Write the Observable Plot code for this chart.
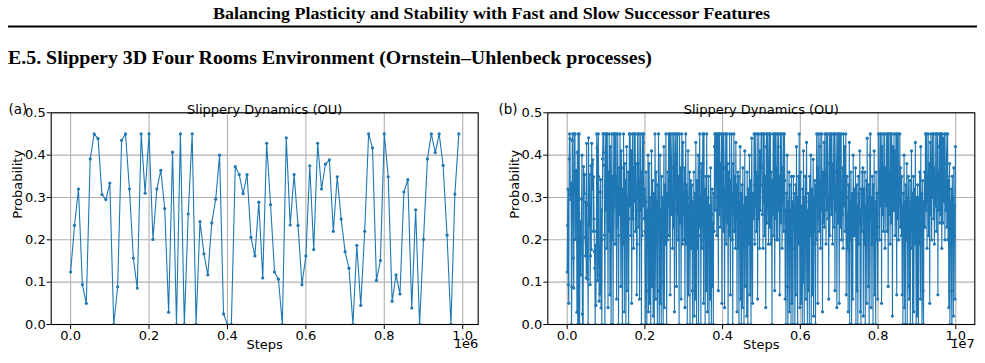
<!DOCTYPE html>
<html>
<head>
<meta charset="utf-8">
<script src="https://cdn.jsdelivr.net/npm/d3@7"></script>
<script src="https://cdn.jsdelivr.net/npm/@observablehq/plot@0.6"></script>
<style>
  html, body { margin: 0; padding: 0; background: #fff; }
  #page { position: relative; width: 985px; height: 363px; overflow: hidden; background: #fff; }
  #head { position: absolute; left: 0; top: 0; }
  .panel { position: absolute; top: 90px; }
</style>
</head>
<body>
<div id="page">
  <svg id="head" width="985" height="90">
    <text x="491.5" y="19" text-anchor="middle" font-family="Liberation Serif" font-weight="bold" font-size="17" textLength="557" lengthAdjust="spacingAndGlyphs">Balancing Plasticity and Stability with Fast and Slow Successor Features</text>
    <line x1="8" x2="977" y1="26.5" y2="26.5" stroke="#000" stroke-width="2"></line>
    <text x="8" y="64" font-family="Liberation Serif" font-weight="bold" font-size="19" textLength="644" lengthAdjust="spacingAndGlyphs">E.5. Slippery 3D Four Rooms Environment (Ornstein–Uhlenbeck processes)</text>
  </svg>
</div>
<script>
// Slip probability of the OU process, sampled every 10k environment steps.
const stepInterval = 10000;

// (a) first 1e6 steps
const probA = [
  0.124, 0.234, 0.320, 0.094, 0.050, 0.391, 0.450, 0.439, 0.307, 0.295,
  0.334, 0.000, 0.089, 0.435, 0.450, 0.320, 0.157, 0.086, 0.450, 0.310,
  0.450, 0.201, 0.320, 0.364, 0.274, 0.029, 0.407, 0.000, 0.450, 0.000,
  0.261, 0.450, 0.000, 0.243, 0.167, 0.117, 0.240, 0.296, 0.400, 0.025,
  0.000, 0.000, 0.373, 0.354, 0.309, 0.354, 0.206, 0.162, 0.289, 0.110,
  0.428, 0.283, 0.124, 0.107, 0.000, 0.441, 0.235, 0.354, 0.234, 0.094,
  0.162, 0.375, 0.177, 0.428, 0.320, 0.379, 0.389, 0.220, 0.349, 0.249,
  0.172, 0.133, 0.000, 0.187, 0.045, 0.220, 0.450, 0.417, 0.104, 0.151,
  0.450, 0.349, 0.055, 0.117, 0.072, 0.313, 0.342, 0.039, 0.271, 0.000,
  0.201, 0.391, 0.450, 0.406, 0.450, 0.376, 0.211, 0.000, 0.308, 0.450
];

// (b) the same run continued from 1e6 to 1e7 steps
const probBTail = [
  0.27, 0.45, 0.18, 0.45, 0.33, 0.04, 0.36, 0.22, 0.45, 0.30, 0.07, 0.42, 0.25, 0.00, 0.31, 0.45, 0.20, 0.35, 0.00, 0.28,
  0.45, 0.45, 0.31, 0.19, 0.45, 0.28, 0.45, 0.06, 0.35, 0.23, 0.45, 0.30, 0.00, 0.21, 0.37, 0.26, 0.45, 0.32, 0.09, 0.41,
  0.37, 0.24, 0.00, 0.32, 0.19, 0.45, 0.29, 0.03, 0.38, 0.26, 0.34, 0.00, 0.23, 0.42, 0.08, 0.30, 0.21, 0.36, 0.00, 0.25,
  0.45, 0.28, 0.45, 0.34, 0.21, 0.41, 0.05, 0.30, 0.45, 0.25, 0.37, 0.18, 0.45, 0.29, 0.33, 0.45, 0.22, 0.38, 0.27, 0.07,
  0.19, 0.45, 0.30, 0.38, 0.23, 0.45, 0.06, 0.34, 0.27, 0.45, 0.31, 0.00, 0.36, 0.21, 0.45, 0.28, 0.43, 0.45, 0.25, 0.32,
  0.22, 0.00, 0.29, 0.36, 0.08, 0.00, 0.27, 0.19, 0.40, 0.03, 0.24, 0.38, 0.05, 0.30, 0.20, 0.00, 0.26, 0.41, 0.09, 0.31,
  0.34, 0.02, 0.23, 0.31, 0.00, 0.18, 0.45, 0.27, 0.06, 0.36, 0.20, 0.29, 0.00, 0.33, 0.24, 0.45, 0.08, 0.00, 0.26, 0.40,
  0.05, 0.27, 0.00, 0.35, 0.22, 0.30, 0.10, 0.00, 0.29, 0.42, 0.04, 0.24, 0.33, 0.19, 0.45, 0.26, 0.00, 0.31, 0.20, 0.36,
  0.28, 0.45, 0.21, 0.34, 0.45, 0.07, 0.45, 0.32, 0.26, 0.37, 0.45, 0.18, 0.30, 0.23, 0.45, 0.35, 0.03, 0.27, 0.45, 0.40,
  0.32, 0.09, 0.45, 0.26, 0.45, 0.20, 0.35, 0.29, 0.00, 0.45, 0.30, 0.24, 0.37, 0.06, 0.28, 0.45, 0.33, 0.19, 0.43, 0.26,
  0.31, 0.20, 0.37, 0.04, 0.26, 0.45, 0.19, 0.33, 0.24, 0.00, 0.30, 0.41, 0.07, 0.28, 0.22, 0.36, 0.00, 0.29, 0.34, 0.18,
  0.24, 0.33, 0.08, 0.00, 0.29, 0.20, 0.36, 0.02, 0.25, 0.31, 0.06, 0.43, 0.22, 0.00, 0.34, 0.18, 0.27, 0.40, 0.00, 0.21,
  0.36, 0.45, 0.23, 0.30, 0.00, 0.38, 0.25, 0.18, 0.34, 0.45, 0.29, 0.05, 0.45, 0.21, 0.32, 0.00, 0.27, 0.35, 0.08, 0.45,
  0.25, 0.03, 0.30, 0.19, 0.35, 0.00, 0.23, 0.28, 0.06, 0.37, 0.20, 0.00, 0.26, 0.32, 0.09, 0.24, 0.00, 0.31, 0.22, 0.42,
  0.45, 0.27, 0.45, 0.33, 0.45, 0.21, 0.36, 0.45, 0.30, 0.08, 0.45, 0.26, 0.45, 0.35, 0.23, 0.38, 0.28, 0.45, 0.05, 0.32,
  0.45, 0.30, 0.22, 0.45, 0.37, 0.04, 0.32, 0.26, 0.45, 0.19, 0.34, 0.45, 0.24, 0.38, 0.00, 0.29, 0.36, 0.21, 0.45, 0.27,
  0.07, 0.34, 0.27, 0.45, 0.20, 0.31, 0.00, 0.38, 0.26, 0.45, 0.22, 0.35, 0.29, 0.18, 0.43, 0.25, 0.33, 0.03, 0.28, 0.36,
  0.18, 0.35, 0.00, 0.29, 0.23, 0.42, 0.06, 0.31, 0.00, 0.26, 0.33, 0.04, 0.37, 0.20, 0.28, 0.00, 0.24, 0.41, 0.09, 0.30,
  0.21, 0.30, 0.02, 0.36, 0.24, 0.00, 0.32, 0.19, 0.27, 0.40, 0.07, 0.23, 0.34, 0.00, 0.29, 0.44, 0.20, 0.05, 0.31, 0.25,
  0.26, 0.45, 0.33, 0.19, 0.45, 0.28, 0.36, 0.22, 0.30, 0.45, 0.06, 0.35, 0.25, 0.45, 0.31, 0.18, 0.41, 0.27, 0.33, 0.45,
  0.37, 0.45, 0.26, 0.33, 0.18, 0.45, 0.29, 0.45, 0.21, 0.35, 0.31, 0.04, 0.42, 0.45, 0.24, 0.30, 0.45, 0.36, 0.19, 0.28,
  0.45, 0.23, 0.32, 0.45, 0.19, 0.36, 0.28, 0.00, 0.34, 0.26, 0.45, 0.31, 0.21, 0.45, 0.08, 0.30, 0.45, 0.25, 0.37, 0.20,
  0.45, 0.32, 0.20, 0.42, 0.45, 0.27, 0.35, 0.07, 0.30, 0.45, 0.24, 0.45, 0.33, 0.18, 0.37, 0.29, 0.45, 0.22, 0.34, 0.45,
  0.34, 0.06, 0.27, 0.00, 0.31, 0.22, 0.40, 0.09, 0.00, 0.29, 0.25, 0.36, 0.03, 0.33, 0.20, 0.27, 0.00, 0.35, 0.05, 0.24,
  0.29, 0.00, 0.35, 0.24, 0.31, 0.18, 0.00, 0.27, 0.33, 0.07, 0.42, 0.22, 0.30, 0.00, 0.26, 0.35, 0.19, 0.45, 0.28, 0.04,
  0.25, 0.36, 0.05, 0.28, 0.21, 0.00, 0.32, 0.10, 0.41, 0.26, 0.00, 0.30, 0.23, 0.35, 0.06, 0.29, 0.43, 0.19, 0.00, 0.27,
  0.08, 0.31, 0.26, 0.00, 0.35, 0.21, 0.29, 0.40, 0.00, 0.24, 0.32, 0.07, 0.27, 0.39, 0.02, 0.30, 0.22, 0.34, 0.19, 0.00,
  0.33, 0.20, 0.45, 0.29, 0.37, 0.05, 0.45, 0.25, 0.31, 0.22, 0.42, 0.45, 0.18, 0.34, 0.27, 0.45, 0.30, 0.03, 0.36, 0.24,
  0.28, 0.43, 0.23, 0.45, 0.31, 0.36, 0.19, 0.45, 0.27, 0.34, 0.45, 0.25, 0.30, 0.06, 0.38, 0.45, 0.21, 0.33, 0.45, 0.29,
  0.26, 0.45, 0.34, 0.19, 0.38, 0.30, 0.45, 0.23, 0.45, 0.08, 0.32, 0.27, 0.45, 0.36, 0.04, 0.29, 0.45, 0.24, 0.35, 0.45,
  0.05, 0.29, 0.45, 0.23, 0.34, 0.45, 0.20, 0.31, 0.26, 0.37, 0.18, 0.45, 0.33, 0.28, 0.42, 0.22, 0.35, 0.45, 0.07, 0.30,
  0.35, 0.18, 0.26, 0.03, 0.33, 0.23, 0.43, 0.00, 0.29, 0.20, 0.36, 0.27, 0.00, 0.31, 0.24, 0.06, 0.40, 0.28, 0.21, 0.32,
  0.30, 0.21, 0.37, 0.00, 0.25, 0.33, 0.08, 0.28, 0.00, 0.35, 0.19, 0.31, 0.24, 0.41, 0.03, 0.27, 0.00, 0.32, 0.22, 0.36,
  0.27, 0.37, 0.02, 0.32, 0.24, 0.19, 0.36, 0.00, 0.28, 0.21, 0.34, 0.05, 0.44, 0.25, 0.30, 0.09, 0.33, 0.00, 0.26, 0.40,
  0.45, 0.25, 0.04, 0.30, 0.19, 0.35, 0.27, 0.00, 0.33, 0.21, 0.41, 0.07, 0.29, 0.24, 0.00, 0.36, 0.20, 0.31, 0.26, 0.06,
  0.23, 0.45, 0.31, 0.36, 0.20, 0.45, 0.28, 0.34, 0.45, 0.05, 0.42, 0.26, 0.32, 0.45, 0.22, 0.37, 0.29, 0.45, 0.18, 0.33,
  0.37, 0.28, 0.45, 0.22, 0.34, 0.45, 0.09, 0.31, 0.45, 0.26, 0.36, 0.19, 0.45, 0.30, 0.24, 0.45, 0.33, 0.02, 0.42, 0.27,
  0.32, 0.45, 0.27, 0.41, 0.21, 0.34, 0.45, 0.30, 0.07, 0.45, 0.25, 0.36, 0.45, 0.20, 0.33, 0.28, 0.45, 0.23, 0.37, 0.29,
  0.21, 0.35, 0.07, 0.28, 0.00, 0.31, 0.24, 0.40, 0.04, 0.29, 0.00, 0.33, 0.20, 0.26, 0.38, 0.00, 0.30, 0.23, 0.35, 0.09,
  0.06, 0.26, 0.34, 0.00, 0.29, 0.22, 0.41, 0.18, 0.31, 0.00, 0.25, 0.35, 0.03, 0.27, 0.32, 0.19, 0.43, 0.24, 0.00, 0.30,
  0.28, 0.02, 0.33, 0.24, 0.00, 0.30, 0.19, 0.36, 0.26, 0.06, 0.42, 0.22, 0.31, 0.00, 0.27, 0.34, 0.08, 0.00, 0.29, 0.23,
  0.36, 0.23, 0.45, 0.31, 0.27, 0.45, 0.18, 0.35, 0.29, 0.45, 0.21, 0.38, 0.33, 0.05, 0.43, 0.26, 0.45, 0.32, 0.20, 0.37,
  0.45, 0.30, 0.45, 0.25, 0.37, 0.19, 0.33, 0.45, 0.28, 0.35, 0.22, 0.45, 0.31, 0.45, 0.07, 0.36, 0.27, 0.42, 0.45, 0.24,
  0.45, 0.26, 0.45, 0.31, 0.18, 0.45, 0.34, 0.24, 0.44, 0.29, 0.36, 0.45, 0.20, 0.32, 0.27, 0.45, 0.38, 0.23, 0.35, 0.45,
  0.20, 0.34, 0.04, 0.27, 0.38, 0.00, 0.29, 0.23, 0.32, 0.08, 0.00, 0.35, 0.25, 0.30, 0.02, 0.37, 0.21, 0.28, 0.06, 0.42
];
const probB = probA.concat(probBTail);

// Axis ticks: x ticks are in units of the offset label (1e6 / 1e7)
const xTickLabels = [0.0, 0.2, 0.4, 0.6, 0.8, 1.0];
const yTicks = [0.0, 0.1, 0.2, 0.3, 0.4, 0.5];

const chartTitle = "Slippery Dynamics (OU)";
const xLabel = "Steps";
const yLabel = "Probability";
const lineColor = "#1f77b4";
const gridColor = "#b0b0b0";

function panel({probs, unit, offsetLabel, letter, width, marginLeft, marginRight}) {
  const data = probs.map((p, i) => ({step: i * stepInterval, p}));
  const [lo, hi] = d3.extent(data, d => d.step);
  const pad = (hi - lo) * 0.05;
  const xTicks = xTickLabels.map(t => t * unit);
  return Plot.plot({
    width,
    height: 273,
    marginLeft,
    marginRight,
    marginTop: 22.3,
    marginBottom: 39,
    style: {fontFamily: "DejaVu Sans", fontSize: "13px", color: "#000", background: "transparent", overflow: "visible"},
    x: {domain: [lo - pad, hi + pad]},
    y: {domain: [0, 0.5]},
    marks: [
      Plot.gridX(xTicks, {stroke: gridColor, strokeOpacity: 1, strokeWidth: 1.1}),
      Plot.gridY(yTicks, {stroke: gridColor, strokeOpacity: 1, strokeWidth: 1.1}),
      Plot.line(data, {x: "step", y: "p", stroke: lineColor, strokeWidth: 1.1, clip: true}),
      Plot.dot(data, {x: "step", y: "p", r: 1.6, fill: lineColor, stroke: null, clip: true}),
      Plot.frame({stroke: "#000", strokeWidth: 1.1}),
      Plot.axisX(xTicks, {tickSize: 5, tickPadding: 1, tickFormat: d => (d / unit).toFixed(1), label: null}),
      Plot.axisY(yTicks, {tickSize: 4, tickPadding: 1.5, tickFormat: d3.format(".1f"), label: null}),
      Plot.text([chartTitle], {text: d => d, frameAnchor: "top", dy: -8, fontSize: 13}),
      Plot.text([xLabel], {text: d => d, frameAnchor: "bottom", dy: 24.5, fontSize: 13}),
      Plot.text([offsetLabel], {text: d => d, frameAnchor: "bottom-right", textAnchor: "end", dy: 23.5, fontSize: 13}),
      Plot.text([yLabel], {text: d => d, frameAnchor: "left", rotate: -90, dx: -33, fontSize: 13}),
      Plot.text([letter], {text: d => d, frameAnchor: "top-left", textAnchor: "start", dx: 8 - marginLeft, dy: -8.5, fontSize: 13.5})
    ]
  });
}

const page = document.getElementById("page");

const chartA = panel({probs: probA, unit: 1e6, offsetLabel: "1e6", letter: "(a)", width: 490, marginLeft: 50.7, marginRight: 12.3});
chartA.classList.add("panel");
chartA.style.left = "0px";
page.appendChild(chartA);

const chartB = panel({probs: probB, unit: 1e7, offsetLabel: "1e7", letter: "(b)", width: 495, marginLeft: 57.3, marginRight: 10.7});
chartB.classList.add("panel");
chartB.style.left = "490px";
page.appendChild(chartB);
</script>
</body>
</html>
